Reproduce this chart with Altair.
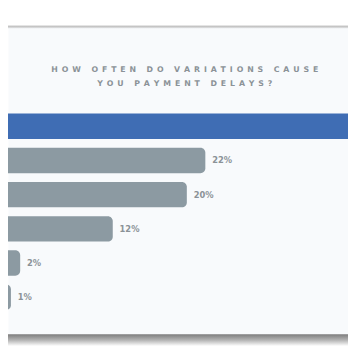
import altair as alt
import pandas as pd

# ---- data ----
CATEGORIES = ["Sometimes", "Often", "Rarely", "Very often", "Never", "Always"]
VALUES = [43, 22, 20, 12, 2, 1]
GROUPS = ["top", "rest", "rest", "rest", "rest", "rest"]
TITLE_LINES = ["HOW OFTEN DO VARIATIONS CAUSE", "YOU PAYMENT DELAYS?"]

W, H = 348, 314
BLUE = "#3f6db4"
GRAY_BAR = "#8c9aa2"
TEXT_GRAY = "#8b9297"
CARD = "#f8fafc"
FONT = "DejaVu Sans"


def spaced(s):
    # wide letter spacing via en spaces between characters
    words = s.split(" ")
    return " ".join("\u2002".join(w) for w in words).replace(" ", "\u2002 \u2002")


df = pd.DataFrame({"category": CATEGORIES, "value": VALUES, "group": GROUPS})
base = alt.Chart(df)

x_scale = alt.Scale(domain=[0.684, 37.41], zero=False, nice=False)
y_scale = alt.Scale(domain=CATEGORIES, range=[83.5, 293.5],
                    paddingInner=9 / 35, paddingOuter=9 / 70)

bars = base.mark_bar(cornerRadiusEnd=5, clip=True).encode(
    x=alt.X("value:Q", scale=x_scale, axis=None),
    x2=alt.datum(0),
    y=alt.Y("category:N", scale=y_scale, axis=None, sort=CATEGORIES),
    color=alt.Color("group:N", scale=alt.Scale(domain=["top", "rest"], range=[BLUE, GRAY_BAR]), legend=None),
)

labels = base.transform_filter(alt.datum.group == "rest").transform_calculate(
    label="datum.value + '%'"
).mark_text(
    align="left", baseline="middle", dx=7,
    font=FONT, fontSize=8.5, fontWeight="bold", color=TEXT_GRAY,
).encode(
    x=alt.X("value:Q", scale=x_scale, axis=None),
    y=alt.Y("category:N", scale=y_scale, axis=None, sort=CATEGORIES),
    text="label:N",
)

title_layers = []
for i, line in enumerate(TITLE_LINES):
    title_layers.append(
        alt.Chart(alt.Data(values=[{"t": spaced(line)}])).mark_text(
            align="center", baseline="middle", font=FONT, fontSize=8,
            fontWeight="bold", color=TEXT_GRAY,
        ).encode(x=alt.value(181), y=alt.value(43 + 15 * i), text="t:N")
    )

one = alt.Data(values=[{"k": 1}])
top_shadow = alt.Chart(one).mark_rect(
    fill=alt.Gradient(gradient="linear", x1=0, y1=0, x2=0, y2=1,
                      stops=[alt.GradientStop(offset=0, color="#ffffff"),
                             alt.GradientStop(offset=0.5, color="#c2c2c2"),
                             alt.GradientStop(offset=1, color="#eef0f2")])
).encode(x=alt.value(0), x2=alt.value(W), y=alt.value(-3), y2=alt.value(1))

bottom_shadow = alt.Chart(one).mark_rect(
    fill=alt.Gradient(gradient="linear", x1=0, y1=0, x2=0, y2=1,
                      stops=[alt.GradientStop(offset=0, color="#7d7d7d"),
                             alt.GradientStop(offset=0.5, color="#b5b5b5"),
                             alt.GradientStop(offset=1, color="#ffffff")])
).encode(x=alt.value(0), x2=alt.value(W), y=alt.value(H), y2=alt.value(H + 12))

chart = alt.layer(top_shadow, bottom_shadow, *title_layers, bars, labels).properties(
    width=W, height=H,
    autosize=alt.AutoSizeParams(type="none"),
    padding={"top": 16, "left": 0, "right": 0, "bottom": 12},
    background="white",
).configure_view(fill=CARD, stroke="transparent")

chart.save("out.html", embed_options={"renderer": "svg", "actions": False})
